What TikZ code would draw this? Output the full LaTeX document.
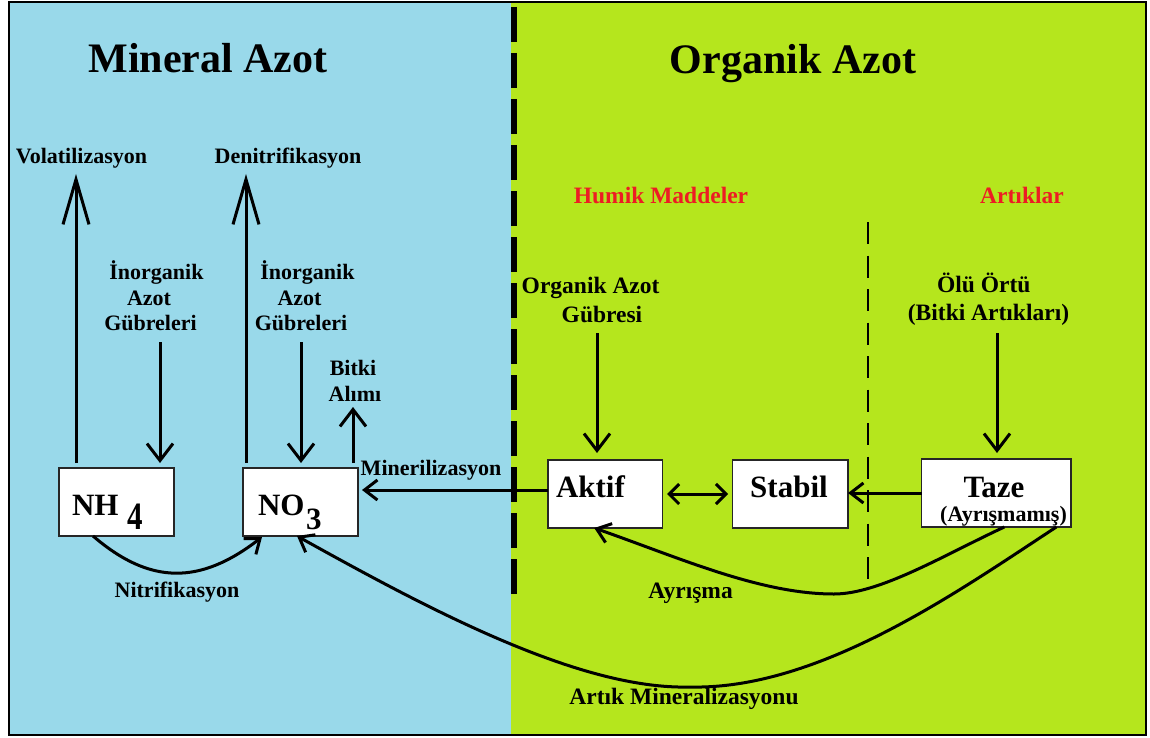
\documentclass[tikz,border=0pt]{standalone}
\usepackage{fontspec}
\setmainfont{Liberation Serif}
\usetikzlibrary{arrows.meta}
\definecolor{mineralblue}{RGB}{153,217,234}
\definecolor{organicgreen}{RGB}{181,230,29}
\definecolor{humusred}{RGB}{237,28,36}
\begin{document}
\begin{tikzpicture}[x=1pt,y=-1pt,
  every node/.style={inner sep=0pt,outer sep=0pt},
  heading/.style={font=\bfseries\fontsize{42}{48}\selectfont,anchor=base},
  lbl/.style={font=\bfseries\fontsize{22}{26}\selectfont,anchor=base},
  rlbl/.style={font=\bfseries\fontsize{23.5}{28}\selectfont,anchor=base},
  boxtext/.style={font=\bfseries\fontsize{31}{36}\selectfont,anchor=base},
  pool/.style={draw=black!85,line width=1.3pt,fill=white,minimum height=68pt},
  flowline/.style={line width=3pt},
  feedarrow/.style={flowline,-{Straight Barb[length=17pt,width=26pt]}},
  lossarrow/.style={flowline,-{Straight Barb[length=45pt,width=26pt]}},
  curvearrow/.style={flowline,-{Straight Barb[length=13pt,width=20pt]}},
]
\useasboundingbox (0,0) rectangle (1150,738);

% two halves of the soil nitrogen pool
\fill[mineralblue] (9,2) rectangle (511,735);
\fill[organicgreen] (511,2) rectangle (1146,735);
\draw[line width=2.2pt] (9,2) rectangle (1146,735);

% dividers
\draw[line width=6pt,dash pattern=on 35pt off 11pt] (513.5,7) -- (513.5,594);
\draw[line width=2.8pt,dash pattern=on 22pt off 11.5pt] (868,222) -- (868,587);

% headings
\node[heading] (mineraltitle) at (208,73) {Mineral Azot};
\node[heading] (organictitle) at (793,74) {Organik Azot};

% mineral side labels
\node[lbl] (volat) at (81.5,164) {Volatilizasyon};
\node[lbl] (denit) at (288,164) {Denitrifikasyon};
\node[lbl] (inorgLa) at (156.5,279) {İnorganik};
\node[lbl] (inorgLb) at (149,305) {Azot};
\node[lbl] (inorgLc) at (150.5,330) {Gübreleri};
\node[lbl] (inorgRa) at (307.5,279) {İnorganik};
\node[lbl] (inorgRb) at (299.5,305) {Azot};
\node[lbl] (inorgRc) at (301,330) {Gübreleri};
\node[lbl] (bitkiA) at (353,375) {Bitki};
\node[lbl] (bitkiB) at (355,401) {Alımı};
\node[lbl] (minlbl) at (431,475) {Minerilizasyon};
\node[lbl] (nitlbl) at (177,597) {Nitrifikasyon};

% organic side labels
\node[rlbl,text=humusred] (humik) at (661,203) {Humik Maddeler};
\node[rlbl,text=humusred] (artik) at (1022,203) {Artıklar};
\node[rlbl] (orgA) at (590.6,293) {Organik Azot};
\node[rlbl] (orgB) at (602,322) {Gübresi};
\node[rlbl] (oluA) at (983.7,292) {Ölü Örtü};
\node[rlbl] (oluB) at (988.5,320) {(Bitki Artıkları)};
\node[rlbl] (ayrlbl) at (690.6,598) {Ayrışma};
\node[rlbl] (artlbl) at (684,704) {Artık Mineralizasyonu};

% pools
\node[pool,minimum width=115pt] (nh4) at (116.5,502) {};
\node[pool,minimum width=115pt] (no3) at (300.5,502) {};
\node[pool,minimum width=114.5pt] (aktif) at (605.25,494) {};
\node[pool,minimum width=115.5pt] (stabil) at (790.25,494) {};
\node[pool,minimum width=149.3pt] (taze) at (996.35,493) {};

\node[boxtext,anchor=base west] (nh4txt) at (72,515) {NH\hspace{8.5pt}\raisebox{-14pt}{\scalebox{1}[1.25]{4}}};
\node[boxtext,anchor=base west] (no3txt) at (258,515) {NO\hspace{1.5pt}\raisebox{-14pt}{3}};
\node[boxtext,anchor=base west] (aktiftxt) at (556,497) {Aktif};
\node[boxtext] (stabiltxt) at (789,497) {Stabil};
\node[boxtext] (tazetxt) at (994,497) {Taze};
\node[lbl] (tazesub) at (1003.5,521) {(Ayrışmamış)};

% losses and inputs
\coordinate (volTip) at (76,174);
\coordinate (denTip) at (246,174);
\coordinate (inorgL) at (160,342);
\coordinate (inorgR) at (301,342);
\coordinate (uptake) at (353,407);
\coordinate (orgfeed) at (597,333);
\coordinate (litter) at (997,333);
\draw[lossarrow,shorten <=5pt] (volTip |- nh4.north) -- (volTip);
\draw[lossarrow,shorten <=5pt] (denTip |- no3.north) -- (denTip);
\draw[feedarrow,shorten >=5pt] (inorgL) -- (inorgL |- nh4.north);
\draw[feedarrow,shorten >=5pt] (inorgR) -- (inorgR |- no3.north);
\draw[feedarrow,shorten <=5pt] (uptake |- no3.north) -- (uptake);
\draw[feedarrow,shorten >=7pt] (orgfeed) -- (orgfeed |- aktif.north);
\draw[feedarrow,shorten >=6pt] (litter) -- (litter |- taze.north);

% transfers between pools
\coordinate (minstart) at ([yshift=4pt]aktif.west);
\draw[curvearrow,shorten >=4pt] (minstart) -- (minstart -| no3.east);
\draw[flowline,{Straight Barb[length=10pt,width=20pt]}-{Straight Barb[length=10pt,width=20pt]},shorten <=4.5pt,shorten >=4.5pt] (aktif) -- (stabil);
\draw[curvearrow] (taze.west) -- (taze.west -| stabil.east);
\draw[curvearrow] ([xshift=34pt]nh4.south west) .. controls (150,585) and (200,585) .. ([xshift=19pt,yshift=-1pt]no3.south west);
\draw[curvearrow] ([xshift=8pt]taze.south) .. controls (944,555) and (880,594) .. (834,594)
  .. controls (760,594) and (680,558) .. ([xshift=-11pt]aktif.south);
\draw[curvearrow] ([xshift=60pt]taze.south) .. controls (960,590) and (820,690) .. (690,687)
  .. controls (580,690) and (430,610) .. ([xshift=-3.5pt]no3.south);
\end{tikzpicture}
\end{document}
